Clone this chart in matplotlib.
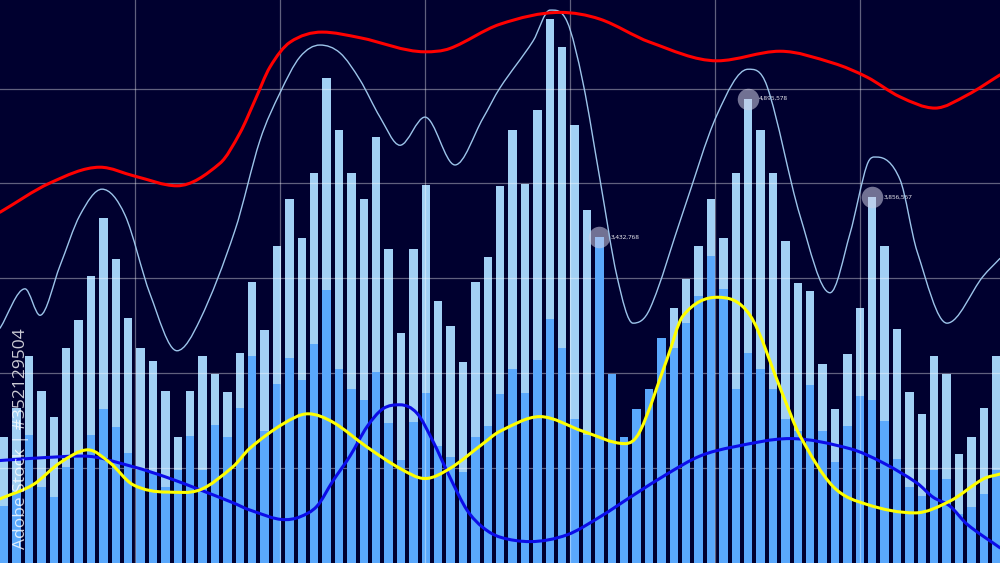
import matplotlib
matplotlib.use("Agg")
import matplotlib.pyplot as plt
import numpy as np
from matplotlib.path import Path
from matplotlib.patches import PathPatch

# ---------------- data ----------------
# bar totals (millions) and lower (darker) part of each bar
bar_total = [1.328, 1.634, 2.187, 1.813, 1.544, 2.266, 2.565, 3.027, 3.636, 3.209,
             2.584, 2.263, 2.134, 1.809, 1.328, 1.809, 2.187, 1.987, 1.802, 2.213,
             2.962, 2.460, 3.338, 3.837, 3.421, 4.106, 5.109, 4.564, 4.106, 3.837,
             4.490, 3.312, 2.424, 3.312, 3.988, 2.761, 2.501, 2.123, 2.967, 3.228,
             3.974, 4.564, 3.997, 4.775, 5.734, 5.439, 4.617, 3.721, 3.432768, 1.987,
             1.328, 1.623, 1.839, 2.372, 2.688, 2.989, 3.338, 3.841, 3.426, 4.106,
             4.895578, 4.564, 4.106, 3.394, 2.955, 2.869, 2.101, 1.623, 2.199, 2.691,
             3.856567, 3.338, 2.463, 1.806, 1.575, 2.187, 1.987, 1.147, 1.328, 1.631,
             2.187]
bar_lower = [0.601, 0.769, 1.349, 0.806, 0.696, 1.012, 1.138, 1.354, 1.627, 1.438,
             1.159, 0.980, 0.959, 0.806, 0.980, 1.339, 0.980, 1.457, 1.328, 1.634,
             2.187, 1.391, 1.887, 2.161, 1.929, 2.312, 2.877, 2.045, 1.839, 1.722,
             2.009, 1.480, 1.086, 1.483, 1.787, 1.237, 1.120, 0.954, 1.328, 1.446,
             1.781, 2.047, 1.792, 2.140, 2.572, 2.270, 1.521, 1.344, 3.432768, 1.987,
             1.328, 1.623, 1.839, 2.372, 2.270, 2.530, 2.814, 3.236, 2.884, 1.839,
             2.213, 2.047, 1.839, 1.521, 1.391, 1.876, 1.391, 1.065, 1.446, 1.763,
             1.722, 1.497, 1.101, 0.806, 0.707, 0.976, 0.890, 0.516, 0.594, 0.730,
             0.976]

highlight_idx = [48, 60, 70]
highlight_labels = ["3,432,768", "4,895,578", "3,856,567"]

# smooth line series (time 0-100, level 0-100)
red_t = [0, 5, 10, 13.5, 17.7, 22, 24, 25.5, 27, 29, 32.2, 36, 42.5, 45, 50, 56, 60,
         65, 71.7, 78, 83.3, 86.7, 90, 93.5, 96.7, 100]
red_v = [62.3, 67.5, 70.3, 68.7, 67.0, 71.0, 76.4, 82.2, 88.1, 92.5, 94.3, 93.3, 90.8,
         91.4, 95.7, 97.8, 96.6, 92.5, 89.2, 90.9, 88.8, 86.3, 82.8, 80.8, 83.1, 86.7]

sky_t = [0, 2.5, 4, 6, 8, 10.2, 12.5, 15, 17.7, 20, 23.5, 26, 28, 30, 32, 34, 36, 38,
         40, 42.5, 45.5, 48.3, 50, 53.3, 55, 56.7, 58.3, 60, 61.7, 63.3, 65, 68.3, 71.7,
         74.8, 76.7, 80, 83, 85, 86.7, 87.7, 90, 91.7, 94.7, 98.3, 100]
sky_v = [41.7, 48.7, 44.0, 52.8, 61.8, 66.4, 61.8, 47.8, 37.7, 43.2, 59.1, 75.1, 83.5,
         89.9, 92.0, 90.6, 85.8, 79.2, 74.2, 79.2, 70.7, 79.0, 84.4, 92.7, 98.2, 96.2,
         85.3, 68.1, 50.9, 42.6, 45.2, 62.3, 79.6, 87.7, 84.7, 61.7, 48.0, 58.5, 70.7,
         72.1, 68.1, 55.4, 42.6, 50.9, 54.1]

yellow_t = [0, 3.3, 6, 8.8, 11, 13.3, 16.7, 20, 23.3, 25, 28.3, 30.8, 33.3, 36.7, 40,
            42.5, 45, 48.3, 50, 54, 58.3, 62.5, 64, 66.7, 68.3, 71.7, 75, 78.3, 80,
            83.3, 86.7, 91.5, 95, 98.3, 100]
yellow_v = [11.4, 13.9, 17.8, 20.1, 17.8, 13.9, 12.6, 13.0, 17.1, 20.4, 24.7, 26.5,
            25.0, 20.6, 16.8, 15.0, 16.8, 21.2, 23.4, 26.0, 23.4, 21.2, 23.4, 36.2,
            43.9, 47.2, 44.0, 29.8, 22.6, 13.6, 10.4, 8.9, 11.0, 14.9, 15.8]

blue_t = [0, 3.3, 8.3, 13.3, 16.7, 20, 23.3, 25, 28.5, 30, 31.7, 33.3, 35, 36.7, 38.3,
          40, 41.7, 43.3, 45, 46.7, 48.3, 50, 53, 56.7, 60, 63.3, 66.7, 70, 73.3, 79,
          85, 88.3, 91.7, 93.3, 95, 96.7, 100]
blue_v = [18.2, 18.6, 19.0, 17.1, 15.2, 13.0, 10.7, 9.4, 7.7, 8.2, 10.1, 14.6, 19.0,
          24.2, 27.4, 28.1, 26.6, 21.6, 15.2, 9.4, 6.3, 4.6, 3.8, 5.0, 8.2, 12.0, 15.8,
          19.0, 20.6, 22.1, 20.3, 17.8, 14.2, 11.7, 10.1, 6.9, 2.7]

y_ticks = [1, 2, 3, 4, 5]
t_ticks = [13.5, 28.0, 42.5, 57.0, 71.5, 86.0]

# ---------------- styling ----------------
BG = "#00002f"
LIGHT = "#a2d0f4"
DARK = "#5aa8fc"

fig = plt.figure(figsize=(10, 5.63), dpi=100)
fig.patch.set_facecolor(BG)

ax = fig.add_axes([0, 0, 1, 1])
ax.set_facecolor(BG)
n = len(bar_total)
x = np.arange(n)
ax.bar(x, bar_total, width=0.68, color=LIGHT, zorder=2)
ax.bar(x, bar_lower, width=0.68, color=DARK, zorder=3)
ax.set_xlim(-0.34, 80.31)
ax.set_ylim(0, 5.934)
for s in ax.spines.values():
    s.set_visible(False)
ax.set_xticks([])
ax.set_yticks(y_ticks)
ax.tick_params(left=False, labelleft=False)
ax.yaxis.grid(True, color="white", alpha=0.38, lw=0.9, zorder=4)
ax.set_axisbelow(False)

# highlighted bars
for i, lab in zip(highlight_idx, highlight_labels):
    ax.plot([i], [bar_total[i]], marker="o", ms=15.5, color="#cfcfe6", alpha=0.55,
            mec="none", zorder=6)
    ax.annotate(lab, (i, bar_total[i]), xytext=(8, 0), textcoords="offset points",
                ha="left", va="center", fontsize=4.6, color="white", zorder=7,
                family="Open Sans")

# overlay axes for smooth lines
ax2 = fig.add_axes([0, 0, 1, 1])
ax2.patch.set_visible(False)
ax2.set_xlim(0, 100)
ax2.set_ylim(0, 100)
for s in ax2.spines.values():
    s.set_visible(False)
ax2.set_xticks(t_ticks)
ax2.set_yticks([])
ax2.tick_params(bottom=False, labelbottom=False)
ax2.xaxis.grid(True, color="white", alpha=0.38, lw=0.9)


def smooth_path(t, v):
    """Cubic Hermite curve through the points (flat at extrema), as a Bezier path."""
    t = np.asarray(t, float)
    v = np.asarray(v, float)
    h = np.diff(t)
    d = np.diff(v) / h
    m = np.zeros_like(v)
    m[0], m[-1] = d[0], d[-1]
    for k in range(1, len(v) - 1):
        if d[k - 1] * d[k] <= 0:
            m[k] = 0.0
        else:
            m[k] = (v[k + 1] - v[k - 1]) / (t[k + 1] - t[k - 1])
    verts = [(t[0], v[0])]
    codes = [Path.MOVETO]
    for k in range(len(v) - 1):
        verts += [(t[k] + h[k] / 3, v[k] + m[k] * h[k] / 3),
                  (t[k + 1] - h[k] / 3, v[k + 1] - m[k + 1] * h[k] / 3),
                  (t[k + 1], v[k + 1])]
        codes += [Path.CURVE4] * 3
    return Path(verts, codes)


for tt, vv, col, lw, z in [(sky_t, sky_v, "#9cc4ea", 1.0, 5),
                           (red_t, red_v, "#ff0000", 2.2, 6),
                           (blue_t, blue_v, "#0c0ce8", 2.2, 6),
                           (yellow_t, yellow_v, "#ffff00", 2.2, 7)]:
    ax2.add_patch(PathPatch(smooth_path(tt, vv), fill=False, edgecolor=col, lw=lw,
                            zorder=z, capstyle="round", joinstyle="round"))

# watermark text
fig.text(0.021, 0.221, "Adobe Stock | #352129504", rotation=90, ha="center",
         va="center", fontsize=12.5, color="white", alpha=0.8, family="Open Sans")

fig.savefig("out.png", dpi=100, facecolor=BG)
